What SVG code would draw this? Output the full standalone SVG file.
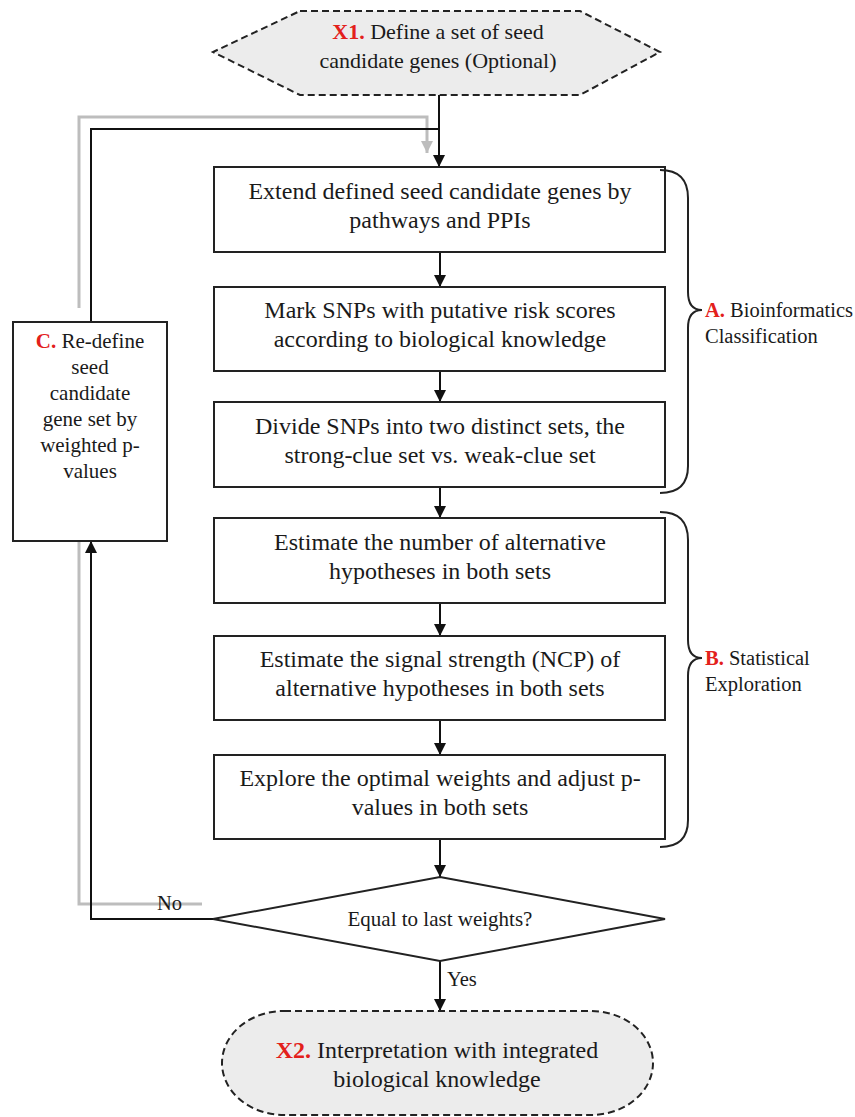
<svg xmlns="http://www.w3.org/2000/svg" width="855" height="1117" viewBox="0 0 855 1117">
<defs>
<marker id="ab" viewBox="0 0 12 12" refX="12" refY="6" markerWidth="12" markerHeight="12" markerUnits="userSpaceOnUse" orient="auto"><path d="M0,0 L12,6 L0,12 z" fill="#111"/></marker>
<marker id="ag" viewBox="0 0 12 12" refX="12" refY="6" markerWidth="12" markerHeight="12" markerUnits="userSpaceOnUse" orient="auto"><path d="M0,0 L12,6 L0,12 z" fill="#bdbdbd"/></marker>
<style>
.box{fill:#fff;stroke:#222;stroke-width:2}
.term{fill:#ececec;stroke:#222;stroke-width:2;stroke-dasharray:7 4}
.t{font-family:"Liberation Serif","Times New Roman",serif;font-size:21px;fill:#1a1a1a;text-anchor:middle}
.big{font-size:24px}
.x1{font-size:22px}
.l{font-family:"Liberation Serif","Times New Roman",serif;font-size:20.5px;fill:#1a1a1a}
.red{fill:#e3201b;font-weight:bold}
.cb{fill:none;stroke:#111;stroke-width:2}
.cg{fill:none;stroke:#bdbdbd;stroke-width:3}
.br{fill:none;stroke:#222;stroke-width:2}
</style>
</defs>
<rect width="855" height="1117" fill="#fff"/>

<g id="connectors">
<path class="cg" d="M79,308 L79,117 L427,117 L427,153" marker-end="url(#ag)"/>
<path class="cg" d="M202,904 L79,904 L79,528" marker-end="url(#ag)"/>
<path class="cb" d="M91,322 L91,129 L439,129"/>
<path class="cb" d="M439,95 L439,167" marker-end="url(#ab)"/>
<path class="cb" d="M440,252 L440,287" marker-end="url(#ab)"/>
<path class="cb" d="M440,371 L440,402" marker-end="url(#ab)"/>
<path class="cb" d="M440,487 L440,518" marker-end="url(#ab)"/>
<path class="cb" d="M440,603 L440,636" marker-end="url(#ab)"/>
<path class="cb" d="M440,720 L440,755" marker-end="url(#ab)"/>
<path class="cb" d="M440,839 L440,877" marker-end="url(#ab)"/>
<path class="cb" d="M440,961 L440,1011" marker-end="url(#ab)"/>
<path class="cb" d="M213,919 L91,919 L91,541" marker-end="url(#ab)"/>
<text class="l" x="157" y="910">No</text>
<text class="l" x="447" y="986">Yes</text>
</g>

<g id="x1">
<polygon class="term" points="300,11 580,11 660,52 580,95 300,95 213,52"/>
<text class="t x1" x="438" y="39"><tspan class="red">X1.</tspan> Define a set of seed</text>
<text class="t x1" x="438" y="68">candidate genes (Optional)</text>
</g>

<g id="box1">
<rect class="box" x="214" y="167" width="451" height="85"/>
<text class="t big" x="440" y="199">Extend defined seed candidate genes by</text>
<text class="t big" x="440" y="228">pathways and PPIs</text>
</g>
<g id="box2">
<rect class="box" x="214" y="287" width="451" height="84"/>
<text class="t big" x="440" y="318">Mark SNPs with putative risk scores</text>
<text class="t big" x="440" y="347">according to biological knowledge</text>
</g>
<g id="box3">
<rect class="box" x="214" y="402" width="451" height="85"/>
<text class="t big" x="440" y="434">Divide SNPs into two distinct sets, the</text>
<text class="t big" x="440" y="463">strong-clue set vs. weak-clue set</text>
</g>
<g id="box4">
<rect class="box" x="214" y="518" width="451" height="85"/>
<text class="t big" x="440" y="550">Estimate the number of alternative</text>
<text class="t big" x="440" y="579">hypotheses in both sets</text>
</g>
<g id="box5">
<rect class="box" x="214" y="636" width="451" height="84"/>
<text class="t big" x="440" y="667">Estimate the signal strength (NCP) of</text>
<text class="t big" x="440" y="696">alternative hypotheses in both sets</text>
</g>
<g id="box6">
<rect class="box" x="214" y="755" width="451" height="84"/>
<text class="t big" x="440" y="786">Explore the optimal weights and adjust p-</text>
<text class="t big" x="440" y="815">values in both sets</text>
</g>

<g id="decision">
<polygon class="box" points="440,877 665,919 440,961 213,919"/>
<text class="t" x="440" y="926">Equal to last weights?</text>
</g>

<g id="boxC">
<rect class="box" x="13" y="322" width="154" height="219"/>
<text class="t" x="90" y="348"><tspan class="red">C.</tspan> Re-define</text>
<text class="t" x="90" y="374">seed</text>
<text class="t" x="90" y="400">candidate</text>
<text class="t" x="90" y="426">gene set by</text>
<text class="t" x="90" y="452">weighted p-</text>
<text class="t" x="90" y="478">values</text>
</g>

<g id="x2">
<rect class="term" x="222" y="1011" width="431" height="104" rx="62" ry="52"/>
<text class="t big" x="437" y="1058"><tspan class="red">X2.</tspan> Interpretation with integrated</text>
<text class="t big" x="437" y="1087">biological knowledge</text>
</g>

<g id="braceA">
<path class="br" d="M660,170 Q688,170 688,198 L688,292 Q688,310 702,310 Q688,310 688,328 L688,466 Q688,493 660,493"/>
<text class="l" x="705" y="317"><tspan class="red">A.</tspan> Bioinformatics</text>
<text class="l" x="705" y="343">Classification</text>
</g>
<g id="braceB">
<path class="br" d="M660,512 Q688,512 688,540 L688,640 Q688,658 702,658 Q688,658 688,676 L688,820 Q688,847 660,847"/>
<text class="l" x="705" y="665"><tspan class="red">B.</tspan> Statistical</text>
<text class="l" x="705" y="691">Exploration</text>
</g>
</svg>
